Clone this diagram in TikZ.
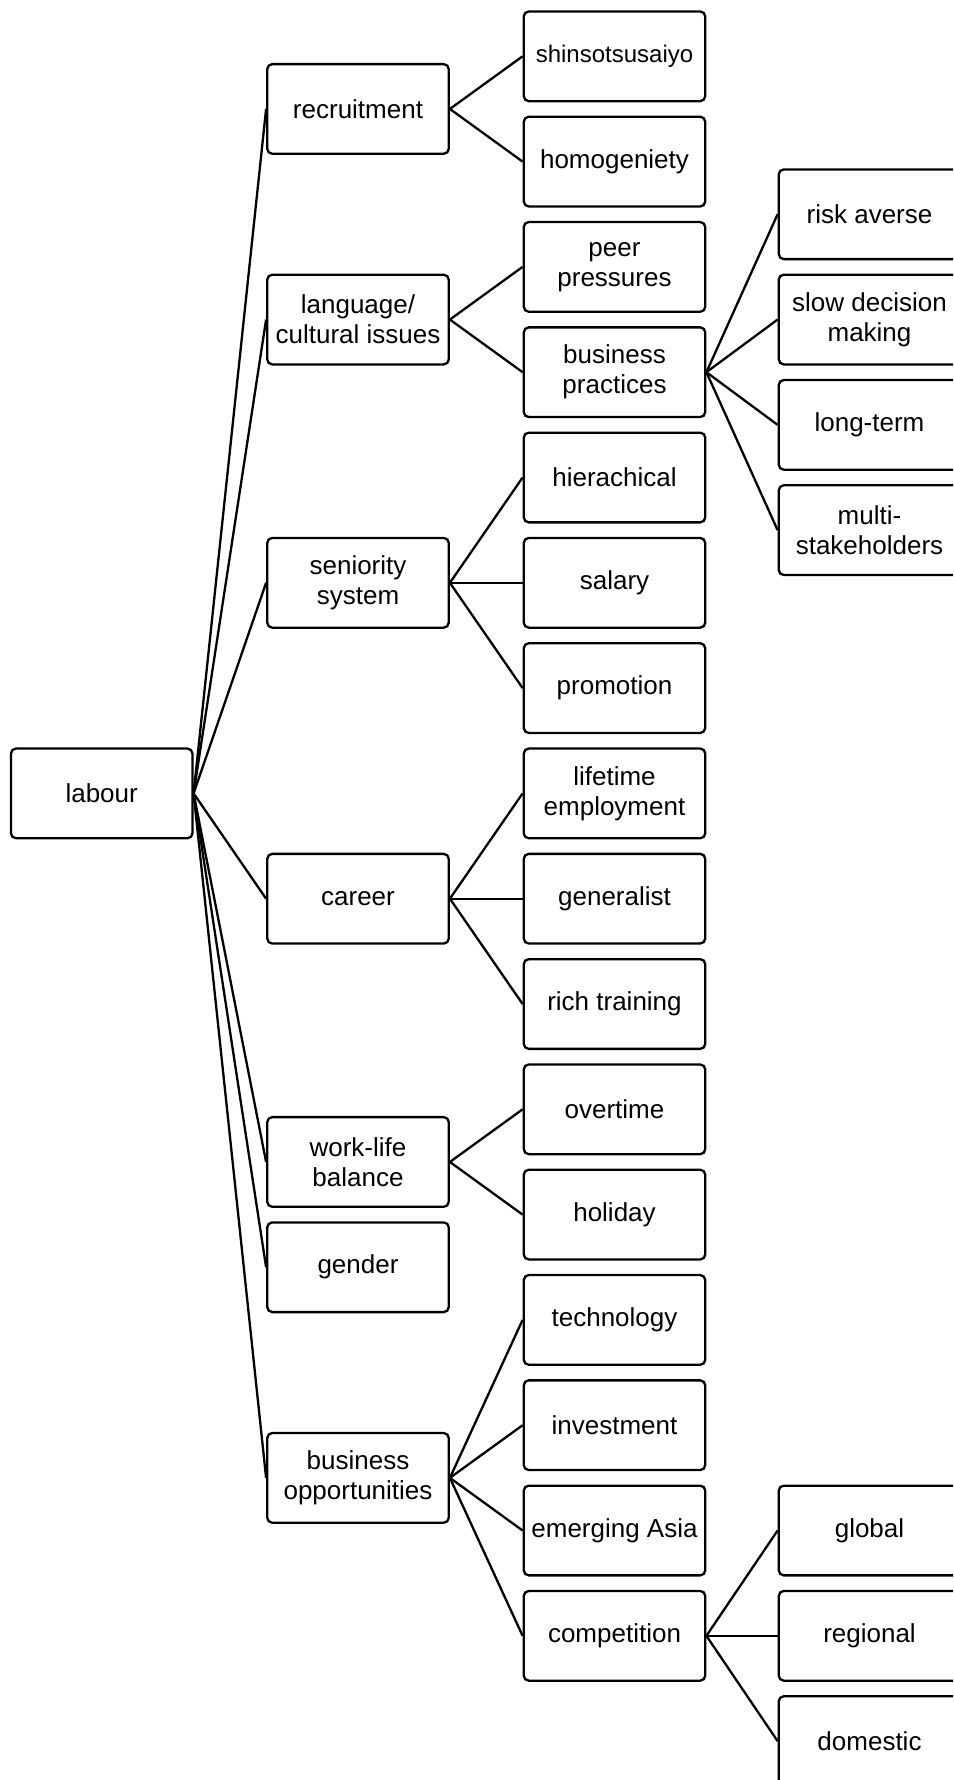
\documentclass[tikz,border=0pt]{standalone}
\usepackage{fontspec}
\setmainfont{Liberation Sans}
\begin{document}
\begin{tikzpicture}[x=1pt,y=-1pt,
  box/.style={draw, line width=2.3pt, rounded corners=5pt, fill=white,
    minimum width=181.5pt, minimum height=89.7pt, inner sep=2pt,
    align=center, font=\fontsize{26}{30}\selectfont},
  link/.style={line width=2.3pt}]
\useasboundingbox (0,0) rectangle (953,1780);
\begin{scope}
\clip (0,0) rectangle (953,1780);
% root
\node[box] (labour) at (101.7,793.4) {labour};
% first level
\node[box] (recr) at (358,108.95) {recruitment};
\node[box] (lang) at (358,319.55) {language/\\cultural issues};
\node[box] (seni) at (358,582.8) {seniority\\system};
\node[box] (care) at (358,898.7) {career};
\node[box] (work) at (358,1161.95) {work-life\\balance};
\node[box] (gend) at (358,1267.25) {gender};
\node[box] (busi) at (358,1477.85) {business\\opportunities};
% second level
\node[box, font=\fontsize{24}{28}\selectfont] (shin) at (614.5,56.3) {shinsotsusaiyo};
\node[box] (homo) at (614.5,161.6) {homogeniety};
\node[box] (peer) at (614.5,266.9) {peer\\pressures};
\node[box] (prac) at (614.5,372.2) {business\\practices};
\node[box] (hier) at (614.5,477.5) {hierachical};
\node[box] (sala) at (614.5,582.8) {salary};
\node[box] (prom) at (614.5,688.1) {promotion};
\node[box] (life) at (614.5,793.4) {lifetime\\employment};
\node[box] (gene) at (614.5,898.7) {generalist};
\node[box] (rich) at (614.5,1004) {rich training};
\node[box] (over) at (614.5,1109.3) {overtime};
\node[box] (holi) at (614.5,1214.6) {holiday};
\node[box] (tech) at (614.5,1319.9) {technology};
\node[box] (inve) at (614.5,1425.2) {investment};
\node[box] (emer) at (614.5,1530.5) {emerging Asia};
\node[box] (comp) at (614.5,1635.8) {competition};
% third level
\node[box] (risk) at (869.5,214.25) {risk averse};
\node[box] (slow) at (869.5,319.55) {slow decision\\making};
\node[box] (long) at (869.5,424.85) {long-term};
\node[box] (mult) at (869.5,530.15) {multi-\\stakeholders};
\node[box] (glob) at (869.5,1530.5) {global};
\node[box] (regi) at (869.5,1635.8) {regional};
\node[box] (dome) at (869.5,1741.1) {domestic};
% connectors
\foreach \c in {recr,lang,seni,care,work,gend,busi}
  \draw[link] (labour.east) -- (\c.west);
\foreach \c in {shin,homo} \draw[link] (recr.east) -- (\c.west);
\foreach \c in {peer,prac} \draw[link] (lang.east) -- (\c.west);
\foreach \c in {hier,sala,prom} \draw[link] (seni.east) -- (\c.west);
\foreach \c in {life,gene,rich} \draw[link] (care.east) -- (\c.west);
\foreach \c in {over,holi} \draw[link] (work.east) -- (\c.west);
\foreach \c in {tech,inve,emer,comp} \draw[link] (busi.east) -- (\c.west);
\foreach \c in {risk,slow,long,mult} \draw[link] (prac.east) -- (\c.west);
\foreach \c in {glob,regi,dome} \draw[link] (comp.east) -- (\c.west);
\end{scope}
\end{tikzpicture}
\end{document}
